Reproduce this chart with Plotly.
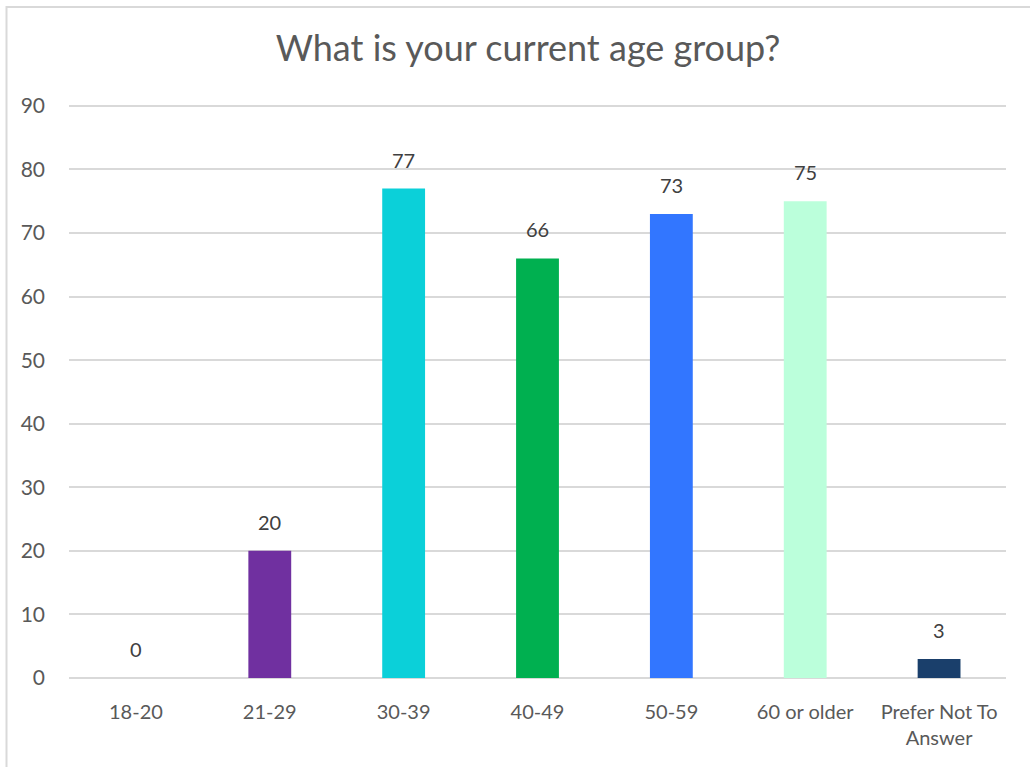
import plotly.graph_objects as go

categories = ["18-20", "21-29", "30-39", "40-49", "50-59", "60 or older", "Prefer Not To<br>Answer"]
values = [0, 20, 77, 66, 73, 75, 3]
colors = ["#4472C4", "#7030A0", "#0BD0D9", "#00B050", "#3276FF", "#BBFFDB", "#1A3F6B"]
y_ticks = [0, 10, 20, 30, 40, 50, 60, 70, 80, 90]

FONT = "Lato, Carlito, Calibri, sans-serif"
TXT = "#595959"

fig = go.Figure(go.Bar(
    x=categories,
    y=values,
    marker=dict(color=colors, line=dict(width=0)),
    width=0.32,
    cliponaxis=False,
))

for c, v in zip(categories, values):
    fig.add_annotation(
        x=c, y=v, xref="x", yref="y", text=str(v), showarrow=False,
        yanchor="bottom", yshift=15,
        font=dict(family=FONT, size=20, color="#404040"),
    )

fig.update_layout(
    width=1030,
    height=767,
    margin=dict(l=69, r=24, t=104, b=89, autoexpand=False),
    paper_bgcolor="white",
    plot_bgcolor="white",
    showlegend=False,
    font=dict(family=FONT, color=TXT),
    title=dict(
        text="What is your current age group?",
        x=528 / 1030, xanchor="center", xref="container",
        y=1 - 48 / 767, yanchor="middle", yref="container",
        font=dict(family=FONT, size=36, color=TXT),
    ),
    xaxis=dict(
        showgrid=False, showline=False, zeroline=False, automargin=False,
        tickfont=dict(family=FONT, size=20, color=TXT),
        ticks="", ticklabelstandoff=20,
    ),
    yaxis=dict(
        range=[0, 90.3], tickvals=y_ticks, automargin=False,
        showgrid=True, gridcolor="#D9D9D9", gridwidth=1.5,
        zeroline=True, zerolinecolor="#D9D9D9", zerolinewidth=1.5,
        showline=False, ticks="",
        tickfont=dict(family=FONT, size=21, color=TXT),
        ticklabelstandoff=23,
    ),
    shapes=[dict(
        type="rect", xref="paper", yref="paper",
        x0=(6.5 - 69) / 937, x1=(1040 - 69) / 937,
        y0=-(780 - 678) / 574, y1=1 + (104 - 7) / 574,
        line=dict(color="#D9D9D9", width=2), fillcolor="rgba(0,0,0,0)",
        layer="below",
    )],
)

fig.write_html(
    "out.html",
    config={"displayModeBar": False},
    post_script="document.body.style.margin='0';document.body.style.padding='0';",
)
